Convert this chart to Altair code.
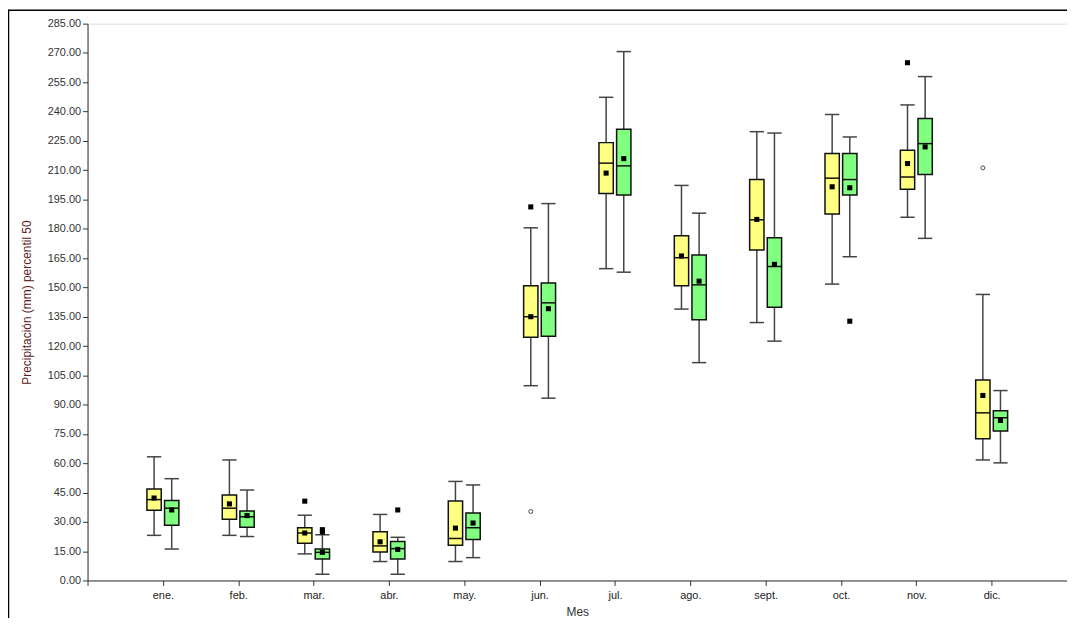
import altair as alt
import pandas as pd

months = ["ene.", "feb.", "mar.", "abr.", "may.", "jun.", "jul.", "ago.", "sept.", "oct.", "nov.", "dic."]
series = ["A", "B"]

# Series A (yellow)
a_low = [23.1, 23.1, 13.6, 9.7, 9.7, 99.7, 159.6, 138.9, 132.0, 151.7, 185.9, 61.7]
a_q1 = [36.0, 31.4, 19.0, 14.6, 18.0, 124.5, 198.1, 150.8, 169.1, 187.6, 200.3, 72.6]
a_med = [41.4, 37.0, 24.3, 17.7, 21.5, 135.0, 213.6, 165.2, 184.6, 205.9, 206.5, 85.8]
a_q3 = [46.8, 43.8, 27.0, 24.9, 40.7, 150.8, 224.1, 176.4, 205.2, 218.5, 220.2, 102.6]
a_high = [63.3, 61.7, 33.4, 33.8, 50.7, 180.5, 247.3, 202.2, 229.7, 238.5, 243.4, 146.4]
a_mean = [42.2, 39.2, 24.3, 19.8, 26.8, 135.0, 208.5, 166.1, 184.8, 201.5, 213.4, 94.7]

# Series B (green)
b_low = [16.1, 22.5, 3.2, 3.2, 11.7, 93.3, 157.8, 111.5, 122.5, 165.7, 175.1, 60.2]
b_q1 = [28.3, 27.3, 11.0, 11.0, 21.0, 125.0, 197.3, 133.5, 139.9, 197.3, 207.8, 76.5]
b_med = [37.0, 32.6, 14.4, 16.3, 27.0, 142.1, 212.2, 151.3, 160.7, 205.2, 223.6, 83.3]
b_q3 = [40.9, 35.6, 16.1, 20.0, 34.6, 152.3, 230.9, 166.6, 175.4, 218.5, 236.5, 86.9]
b_high = [52.1, 46.3, 23.4, 22.1, 48.9, 192.9, 270.7, 188.0, 229.0, 227.0, 257.9, 97.2]
b_mean = [36.1, 33.2, 14.4, 15.9, 29.4, 139.1, 215.9, 153.2, 161.8, 201.0, 221.9, 81.9]

# Extreme values (filled squares) and outliers (open circles)
sq_month = ["mar.", "mar.", "mar.", "abr.", "jun.", "oct.", "nov."]
sq_series = ["A", "B", "B", "B", "A", "B", "A"]
sq_value = [40.6, 26.0, 24.8, 36.1, 191.2, 132.7, 265.0]

circ_month = ["jun.", "dic."]
circ_series = ["A", "A"]
circ_value = [35.3, 211.2]

OFFSET = {"A": -0.117, "B": 0.117}
HALF = 0.095
colors = {"A": "#FFFF80", "B": "#80FF80"}

rows = []
for s, (lo, q1, md, q3, hi, mn) in {
    "A": (a_low, a_q1, a_med, a_q3, a_high, a_mean),
    "B": (b_low, b_q1, b_med, b_q3, b_high, b_mean),
}.items():
    for i, m in enumerate(months):
        c = i + 1 + OFFSET[s]
        rows.append(dict(month=m, series=s, pos=c, pl=c - HALF, pr=c + HALF,
                         low=lo[i], q1=q1[i], med=md[i], q3=q3[i], high=hi[i], mean=mn[i]))
df = pd.DataFrame(rows)

def pos_of(m, s):
    return months.index(m) + 1 + OFFSET[s]

sq_df = pd.DataFrame({"pos": [pos_of(m, s) for m, s in zip(sq_month, sq_series)], "v": sq_value})
ci_df = pd.DataFrame({"pos": [pos_of(m, s) for m, s in zip(circ_month, circ_series)], "v": circ_value})

label_arr = "[''," + ",".join(f"'{m}'" for m in months) + ",'']"

xscale = alt.Scale(domain=[0, 13], nice=False, zero=False)
yscale = alt.Scale(domain=[0, 285], nice=False, zero=True)

x_axis = alt.Axis(values=list(range(0, 14)), labelExpr=f"{label_arr}[datum.value]", title="Mes",
                  grid=False, labelFont="Liberation Sans", labelFontSize=11, labelColor="#222",
                  titleFont="Liberation Sans", titleFontSize=12, titleFontWeight="normal", titleColor="#333",
                  tickSize=5, titlePadding=6, domainColor="#333", tickColor="#333", labelPadding=4,
                  labelOverlap=False)
y_axis = alt.Axis(values=list(range(0, 286, 15)), format=".2f", title="Precipitación (mm) percentil 50",
                  grid=False, labelFont="Liberation Sans", labelFontSize=11, labelColor="#333",
                  titleFont="Liberation Sans", titleFontSize=12, titleFontWeight="normal", titleColor="#5C1A1A",
                  tickSize=5, titlePadding=14, domainColor="#333", tickColor="#333",
                  labelOverlap=False, labelBound=False, labelFlush=False)


def X(f):
    return alt.X(f, scale=xscale, axis=x_axis)


def Y(f):
    return alt.Y(f, scale=yscale, axis=y_axis)


base = alt.Chart(df)
WH = "#444"

whisk = base.mark_rule(color=WH, strokeWidth=1.5).encode(x=X("pos:Q"), y=Y("low:Q"), y2="high:Q")
cap_lo = base.mark_rule(color=WH, strokeWidth=1.5).encode(x=X("pl:Q"), x2="pr:Q", y=Y("low:Q"))
cap_hi = base.mark_rule(color=WH, strokeWidth=1.5).encode(x=X("pl:Q"), x2="pr:Q", y=Y("high:Q"))
box = base.mark_rect(stroke="#111", strokeWidth=1.5).encode(
    x=X("pl:Q"), x2="pr:Q", y=Y("q1:Q"), y2="q3:Q",
    fill=alt.Fill("series:N", scale=alt.Scale(domain=series, range=[colors["A"], colors["B"]]), legend=None),
)
med = base.mark_rule(color="#111", strokeWidth=1.5).encode(x=X("pl:Q"), x2="pr:Q", y=Y("med:Q"))
mean = base.mark_square(size=26, color="black", opacity=1).encode(x=X("pos:Q"), y=Y("mean:Q"))

sq = alt.Chart(sq_df).mark_square(size=26, color="black", opacity=1).encode(x=X("pos:Q"), y=Y("v:Q"))
ci = alt.Chart(ci_df).mark_point(shape="circle", size=16, color="black", filled=False, strokeWidth=1).encode(
    x=X("pos:Q"), y=Y("v:Q"))

frame_df = alt.Data(values=[{"k": 1}])
frame_left = alt.Chart(frame_df).mark_rule(color="black", strokeWidth=1.5).encode(
    x=alt.value(-79.5), y=alt.value(-14), y2=alt.value(620))
frame_top = alt.Chart(frame_df).mark_rule(color="black", strokeWidth=1.5).encode(
    x=alt.value(-80), x2=alt.value(1000), y=alt.value(-13.5))

chart = alt.layer(whisk, cap_lo, cap_hi, box, med, mean, sq, ci, frame_left, frame_top).properties(
    width=985, height=560,
    autosize=alt.AutoSizeParams(type="none"),
    padding={"left": 80, "top": 14, "right": 0, "bottom": 36},
).configure_view(stroke=None).configure(background="white")

chart.save("out.html", embed_options={"renderer": "svg", "actions": False})
